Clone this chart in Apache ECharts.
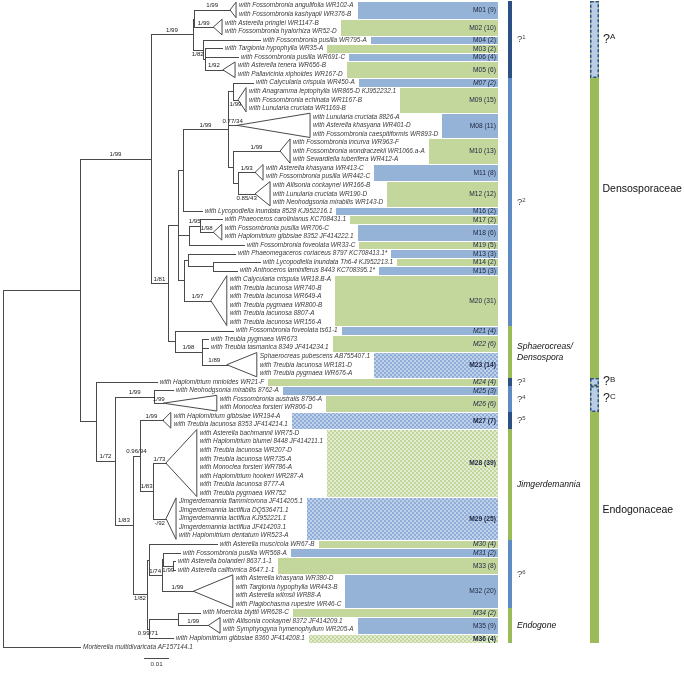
<!DOCTYPE html>
<html><head><meta charset="utf-8">
<script src="https://cdn.jsdelivr.net/npm/echarts/dist/echarts.min.js"></script>
<style>html,body{margin:0;padding:0;background:#fff}#chart{width:684px;height:674px}</style>
</head><body><div id="chart"></div>
<script>
// ---------------- DATA ----------------
const leafNames = [
 'with Fossombronia angulifolia WR102-A','with Fossombronia kashyapii WR376-B','with Asterella pringlei WR1147-B',
 'with Fossombronia hyalorhiza WR52-D','with Fossombronia pusilla WR795-A','with Targionia hypophylla WR35-A',
 'with Fossombronia pusilla WR691-C','with Asterella tenera WR656-B','with Pallavicinia xiphoides WR167-D',
 'with Calycularia crispula WR450-A','with Anagramma leptophylla WR865-D KJ952232.1','with Fossombronia echinata WR1167-B',
 'with Lunularia cruciata WR1169-B','with Lunularia cruciata 8826-A','with Asterella khasyana WR401-D',
 'with Fossombronia caespitiformis WR893-D','with Fossombronia incurva WR963-F','with Fossombronia wondraczekii WR1066.a-A',
 'with Sewardiella tuberifera WR412-A','with Asterella khasyana WR413-C','with Fossombronia pusilla WR442-C',
 'with Allisonia cockaynei WR166-B','with Lunularia cruciata WR190-D','with Neohodgsonia mirabilis WR143-D',
 'with Lycopodiella inundata 8528 KJ952216.1','with Phaeoceros carolinianus KC708431.1','with Fossombronia pusilla WR706-C',
 'with Haplomitrium gibbsiae 8352 JF414222.1','with Fossombronia foveolata WR33-C','with Phaeomegaceros coriaceus 8797 KC708413.1*',
 'with Lycopodiella inundata Th6-4 KJ952213.1','with Anthoceros laminiferus 8443 KC708395.1*','with Calycularia crispula WR18.B-A',
 'with Treubia lacunosa WR740-B','with Treubia lacunosa WR649-A','with Treubia pygmaea WR800-B',
 'with Treubia lacunosa 8807-A','with Treubia lacunosa WR156-A','with Fossombronia foveolata ts61-1',
 'with Treubia pygmaea WR673','with Treubia tasmanica 8349 JF414234.1','Sphaerocreas pubescens AB755407.1',
 'with Treubia lacunosa WR181-D','with Treubia pygmaea WR676-A','with Haplomitrium mnioides WR21-F',
 'with Neohodgsonia mirabilis 8762-A','with Fossombronia australis 8796-A','with Monoclea forsteri WR806-D',
 'with Haplomitrium gibbsiae WR194-A','with Treubia lacunosa 8353 JF414214.1','with Asterella bachmannii WR75-D',
 'with Haplomitrium blumei 8448 JF414211.1','with Treubia lacunosa WR207-D','with Treubia lacunosa WR735-A',
 'with Monoclea forsteri WR786-A','with Haplomitrium hookeri WR287-A','with Treubia lacunosa 8777-A',
 'with Treubia pygmaea WR752','Jimgerdemannia flammicorona JF414205.1','Jimgerdemannia lactiflua DQ536471.1',
 'Jimgerdemannia lactiflua KJ952221.1','Jimgerdemannia lactiflua JF414203.1','with Haplomitrium dentatum WR523-A',
 'with Asterella muscicola WR67-B','with Fossombronia pusilla WR568-A','with Asterella bolanderi 8637.1-1',
 'with Asterella californica 8647.1-1','with Asterella khasyana WR380-D','with Targionia hypophylla WR443-B',
 'with Asterella wilmsii WR88-A','with Plagiochasma rupestre WR46-C','with Moerckia blyttii WR628-C',
 'with Allisonia cockaynei 8372 JF414209.1','with Symphyogyna hymenophyllum WR205-A','with Haplomitrium gibbsiae 8360 JF414208.1',
 'Mortierella multidivaricata AF157144.1'
];

// internal nodes: [id, parent, depth from root (subst./site), support, label side]
const internalNodes = [
 ['root', null, 0, '', ''],
 ['ing', 'root', 0.0307, '', ''],
 ['dens', 'ing', 0.0591, '1/99', 'up'],
 ['A', 'dens', 0.0758, '1/99', 'up'],
 ['B', 'A', 0.0764, '', ''],
 ['C', 'A', 0.0798, '1/82', 'down'],
 ['D', 'C', 0.0807, '', ''],
 ['T', 'dens', 0.0658, '1/81', 'up'],
 ['M', 'T', 0.0700, '', ''],
 ['F', 'M', 0.0718, '', ''],
 ['G', 'F', 0.0900, '1/99', 'up'],
 ['L', 'G', 0.0919, '', ''],
 ['H', 'G', 0.0919, '', ''],
 ['K', 'H', 0.0940, '', ''],
 ['N', 'M', 0.0744, '', ''],
 ['O', 'N', 0.0787, '1/95', 'up'],
 ['S', 'M', 0.0723, '', ''],
 ['Q', 'S', 0.0738, '', ''],
 ['R', 'Q', 0.0840, '', ''],
 ['U', 'T', 0.0687, '', ''],
 ['V', 'U', 0.0794, '1/98', 'up'],
 ['X', 'ing', 0.0371, '', ''],
 ['Y', 'X', 0.0447, '1/72', 'up'],
 ['Z', 'Y', 0.0604, '1/99', 'up'],
 ['AA', 'Y', 0.0518, '1/83', 'up'],
 ['AB', 'AA', 0.0547, '0.96/94', 'up'],
 ['AD', 'AB', 0.0600, '1/83', 'up'],
 ['AC', 'AA', 0.0576, '1/82', 'down'],
 ['AE', 'AC', 0.0581, '', ''],
 ['AG', 'AE', 0.0634, '1/74', 'up'],
 ['AH', 'AG', 0.0640, '', ''],
 ['AI', 'AH', 0.0680, '1/99', 'down'],
 ['AF', 'AC', 0.0581, '0.99/71', 'down'],
 ['AJ', 'AF', 0.0700, '', '']
];

// single leaves: [row, parent, tip depth]
const singleLeaves = [
 [5,'C',0.1027],[6,'D',0.0875],[7,'D',0.0939],[10,'L',0.0999],[25,'F',0.0794],[26,'O',0.0874],
 [29,'N',0.0963],[30,'Q',0.0927],[31,'R',0.1027],[32,'R',0.0935],[39,'U',0.0919],[40,'V',0.0819],
 [41,'V',0.0819],[45,'X',0.0614],[46,'Z',0.0679],[64,'AE',0.0854],[65,'AH',0.0707],[66,'AI',0.0687],
 [67,'AI',0.0687],[72,'AJ',0.0787],[75,'AF',0.0679],[76,'root',0.0307]
];

// collapsed clades: [parent, apex depth, base depth, first row, last row, support, label side]
const collapsedClades = [
 ['B',0.0907,0.0931,1,2,'1/99','up'],
 ['B',0.0840,0.0875,3,4,'1/99','up'],
 ['D',0.0878,0.0927,8,9,'1/92','up'],
 ['L',0.0939,0.0971,11,13,'1/99','down'],
 ['G',0.0935,0.1227,14,16,'0.77/34','up'],
 ['H',0.1107,0.1147,17,19,'1/99','up'],
 ['K',0.1007,0.1039,20,21,'1/93','up'],
 ['K',0.1007,0.1067,22,24,'0.85/43','down'],
 ['O',0.0840,0.0874,27,28,'1/98','up'],
 ['S',0.0830,0.0894,33,38,'1/97','up'],
 ['V',0.0894,0.1014,42,44,'1/89','up'],
 ['Z',0.0640,0.0854,47,48,'1/99','up'],
 ['AB',0.0638,0.0670,49,50,'1/99','up'],
 ['AD',0.0650,0.0774,51,58,'1/73','up'],
 ['AD',0.0651,0.0691,59,63,'-/92','down'],
 ['AG',0.0760,0.0918,68,71,'1/99','up'],
 ['AJ',0.0820,0.0867,73,74,'1/99','up']
];

// OTU groups: [name, count, first row, last row, host class (b/g), mark (n normal, i italic, c checker+bold)]
const groups = [
 ['M01',9,1,2,'b','n'],['M02',10,3,4,'g','n'],['M04',2,5,5,'b','n'],['M03',2,6,6,'g','n'],
 ['M06',4,7,7,'b','n'],['M05',6,8,9,'g','n'],['M07',2,10,10,'b','i'],['M09',15,11,13,'g','n'],
 ['M08',11,14,16,'b','n'],['M10',13,17,19,'g','n'],['M11',8,20,21,'b','n'],['M12',12,22,24,'g','n'],
 ['M16',2,25,25,'b','n'],['M17',2,26,26,'g','n'],['M18',6,27,28,'b','n'],['M19',5,29,29,'g','n'],
 ['M13',3,30,30,'b','n'],['M14',2,31,31,'g','n'],['M15',3,32,32,'b','n'],['M20',31,33,38,'g','n'],
 ['M21',4,39,39,'b','i'],['M22',6,40,41,'g','i'],['M23',14,42,44,'b','c'],['M24',4,45,45,'g','i'],
 ['M25',3,46,46,'b','i'],['M26',6,47,48,'g','i'],['M27',7,49,50,'b','c'],['M28',39,51,58,'g','c'],
 ['M29',25,59,63,'b','c'],['M30',4,64,64,'g','i'],['M31',2,65,65,'b','i'],['M33',8,66,67,'g','n'],
 ['M32',20,68,71,'b','n'],['M34',2,72,72,'g','i'],['M35',9,73,74,'b','n'],['M36',4,75,75,'g','c']
];

// clade bars (first column): [label, superscript, first row, last row, class]
const cladeBars = [
 ['?','1',1,9,'dark'],['?','2',10,38,'mid'],['Sphaerocreas/\nDensospora','',39,44,'green'],
 ['?','3',45,45,'dark'],['?','4',46,48,'mid'],['?','5',49,50,'dark'],
 ['Jimgerdemannia','',51,63,'green'],['?','6',64,71,'mid'],['Endogone','',72,75,'green']
];
// families (second column): [label, first row, last row]
const familyBars = [['Densosporaceae',1,44],['Endogonaceae',45,75]];
// uncertain placements (second column, dashed): [label, superscript, first row, last row]
const uncertainBars = [['?','A',1,9],['?','B',45,45],['?','C',46,48]];

const scaleBarLength = 0.01;
const scaleBarLabel = '0.01';

// ---------------- LAYOUT / STYLE ----------------
const X_MAX = 0.198;
const SCALE_START = 0.0563;
const FONT_LEAF = 'italic 6.45px "Liberation Sans"';
const FONT_SUP = '6.1px "Liberation Sans"';
const LINE = '#4a4a4a';
const COLORS = {b:'#95b3d7', g:'#c3d69b', dark:'#2c4f86', mid:'#5f8bc4', green:'#9bbb59'};

function checker(c1, c2, s) {
  const cv = document.createElement('canvas'); cv.width = cv.height = 2*s;
  const ctx = cv.getContext('2d');
  ctx.fillStyle = c1; ctx.fillRect(0,0,2*s,2*s);
  ctx.fillStyle = c2; ctx.fillRect(0,0,s,s); ctx.fillRect(s,s,s,s);
  return cv;
}
const PATTERNS = {
  b: {image: checker('#c0d2ea','#8fadd6',2), repeat:'repeat'},
  g: {image: checker('#e3ecd1','#c3d69b',2), repeat:'repeat'}
};
const mctx = document.createElement('canvas').getContext('2d');
function textW(t, font){ mctx.font = font; return mctx.measureText(t).width; }

// ---------------- TREE BUILD ----------------
const nodes = {};
internalNodes.forEach(([id,parent,depth,support,side]) => nodes[id] = {id,parent,depth,support,side,kids:[]});
internalNodes.forEach(([id,parent]) => { if (parent) nodes[parent].kids.push({kind:'node', id}); });
singleLeaves.forEach(([row,parent,tip]) => nodes[parent].kids.push({kind:'leaf', row, tip}));
collapsedClades.forEach((c,i) => nodes[c[0]].kids.push({kind:'clade', i}));
const yCache = {};
function kidY(k){
  if (k.kind==='leaf') return k.row;
  if (k.kind==='clade') return (collapsedClades[k.i][3]+collapsedClades[k.i][4])/2;
  return nodeY(k.id);
}
function nodeY(id){
  if (yCache[id]!=null) return yCache[id];
  const ys = nodes[id].kids.map(kidY);
  return (yCache[id] = (Math.min(...ys)+Math.max(...ys))/2);
}
const segments = [], triangles = [], supports = [], supportTexts = [], leafText = [];
const rowTextDepth = [];
Object.values(nodes).forEach(n => {
  const y = nodeY(n.id);
  const ys = n.kids.map(kidY);
  segments.push([n.depth, Math.min(...ys), n.depth, Math.max(...ys)]);
  if (n.parent) {
    const pd = nodes[n.parent].depth;
    segments.push([pd, y, n.depth, y]);
    if (n.support) { supports.push([(pd+n.depth)/2, y, n.side==='down'?1:0, supportTexts.length]); supportTexts.push(n.support); }
  }
});
singleLeaves.forEach(([row,parent,tip]) => {
  segments.push([nodes[parent].depth, row, tip, row]);
  leafText.push([tip, row, row-1]); rowTextDepth[row] = tip;
});
collapsedClades.forEach(([parent,apex,base,r0,r1,sup,side]) => {
  const pd = nodes[parent].depth, y = (r0+r1)/2;
  segments.push([pd, y, apex, y]);
  triangles.push([apex, y, base, r0-0.42, r1+0.42]);
  for (let r=r0;r<=r1;r++){ leafText.push([base, r, r-1]); rowTextDepth[r] = base; }
  if (sup) { supports.push([(pd+apex)/2, y, side==='down'?1:0, supportTexts.length]); supportTexts.push(sup); }
});

function crisp(v){ return Math.round(v)+0.5; }
function txt(x,y,text,font,fill,align,valign){
  return {type:'text', x, y, style:{text, font, fill, align, verticalAlign:valign, textAlign:align, textVerticalAlign:valign}};
}
function supLabel(x, y, q, s, qSize, sSize, color){
  return {type:'text', x, y, style:{
    text:'{q|'+q+'}{s|'+s+'}', align:'left', verticalAlign:'middle', textAlign:'left', textVerticalAlign:'middle',
    rich:{ q:{fontSize:qSize, fontFamily:'Liberation Sans', fill:color, color:color},
           s:{fontSize:sSize, fontFamily:'Liberation Sans', fill:color, color:color, verticalAlign:'top'} } }};
}

const chart = echarts.init(document.getElementById('chart'), null, {renderer:'canvas'});
chart.setOption({
  animation:false,
  backgroundColor:'#ffffff',
  grid:{left:3.3, right:684-3.3-X_MAX*2500, top:5.7, bottom:27.2, containLabel:false},
  xAxis:{type:'value', min:0, max:X_MAX, show:false},
  yAxis:{type:'value', min:1, max:76, inverse:true, show:false},
  series:[
    { type:'custom', name:'branches', silent:true, data:segments,
      renderItem(params, api){
        const a = api.coord([api.value(0), api.value(1)]), b = api.coord([api.value(2), api.value(3)]);
        let x1,y1,x2,y2;
        if (Math.abs(a[1]-b[1]) < 0.01) { y1 = y2 = crisp(a[1]); x1 = Math.round(a[0]); x2 = Math.round(b[0])+1; }
        else { x1 = x2 = crisp(a[0]); y1 = Math.round(a[1]); y2 = Math.round(b[1])+1; }
        return {type:'line', shape:{x1,y1,x2,y2}, style:{stroke:LINE, lineWidth:1}};
      }},
    { type:'custom', name:'collapsed', silent:true, data:triangles,
      renderItem(params, api){
        const ap = api.coord([api.value(0), api.value(1)]);
        const b0 = api.coord([api.value(2), api.value(3)]), b1 = api.coord([api.value(2), api.value(4)]);
        return {type:'polygon', shape:{points:[[ap[0],ap[1]],[b0[0],b0[1]],[b1[0],b1[1]]]},
                style:{stroke:LINE, lineWidth:1, fill:'none'}};
      }},
    { type:'custom', name:'tips', silent:true, data:leafText,
      renderItem(params, api){
        const p = api.coord([api.value(0), api.value(1)]);
        return txt(p[0]+3, p[1], leafNames[api.value(2)], FONT_LEAF, '#3a3a3a', 'left', 'middle');
      }},
    { type:'custom', name:'support', silent:true, data:supports,
      renderItem(params, api){
        const p = api.coord([api.value(0), api.value(1)]);
        const down = api.value(2) === 1;
        return txt(p[0], p[1] + (down ? 1.5 : -1.2), supportTexts[api.value(3)], FONT_SUP, '#222', 'center', down ? 'top' : 'bottom');
      }},
    { type:'custom', name:'otus', silent:true, data:groups.map((g,i)=>[i]),
      renderItem(params, api){
        const [name, n, r0, r1, cls, mark] = groups[api.value(0)];
        const cs = params.coordSys, right = cs.x + cs.width;
        let left = 0;
        for (let r=r0;r<=r1;r++){
          const p = api.coord([rowTextDepth[r], r]);
          left = Math.max(left, p[0] + 3 + textW(leafNames[r-1], FONT_LEAF));
        }
        left = Math.round(left + 4);
        const top = Math.round(api.coord([0, r0-0.5])[1]) + 1;
        const bot = Math.round(api.coord([0, r1+0.5])[1]);
        const fill = mark === 'c' ? PATTERNS[cls] : COLORS[cls];
        const font = (mark==='i' ? 'italic ' : mark==='c' ? 'bold ' : '') + '6.7px "Liberation Sans"';
        return {type:'group', children:[
          {type:'rect', shape:{x:left, y:top, width:Math.round(right)-left, height:bot-top}, style:{fill}},
          txt(Math.round(right)-2, (top+bot)/2, name+' ('+n+')', font, '#1b2541', 'right', 'middle')
        ]};
      }},
    { type:'custom', name:'clades', silent:true, data:cladeBars.map((c,i)=>[i]),
      renderItem(params, api){
        const [label, sup, r0, r1, cls] = cladeBars[api.value(0)];
        const cs = params.coordSys, right = Math.round(cs.x + cs.width);
        const top = Math.round(api.coord([0, r0-0.5])[1]);
        const bot = Math.round(api.coord([0, r1+0.5])[1]);
        const mid = (top+bot)/2;
        const children = [{type:'rect', shape:{x:right+10, y:top, width:4, height:bot-top}, style:{fill:COLORS[cls]}}];
        if (sup) children.push(supLabel(right+19, mid, label, sup, 9.5, 6, '#444'));
        else children.push({type:'text', x:right+19, y:mid, style:{text:label, font:'italic 8.6px "Liberation Sans"', fill:'#111',
            align:'left', verticalAlign:'middle', textAlign:'left', textVerticalAlign:'middle', lineHeight:11.5}});
        return {type:'group', children};
      }},
    { type:'custom', name:'families', silent:true, data:familyBars.map((c,i)=>[i]),
      renderItem(params, api){
        const [label, r0, r1] = familyBars[api.value(0)];
        const cs = params.coordSys, right = Math.round(cs.x + cs.width);
        const top = Math.round(api.coord([0, r0-0.5])[1]);
        const bot = Math.round(api.coord([0, r1+0.5])[1]);
        return {type:'group', children:[
          {type:'rect', shape:{x:right+92, y:top, width:9, height:bot-top}, style:{fill:COLORS.green}},
          txt(right+104.5, (top+bot)/2, label, '10.5px "Liberation Sans"', '#111', 'left', 'middle')
        ]};
      }},
    { type:'custom', name:'uncertain', silent:true, data:uncertainBars.map((c,i)=>[i]),
      renderItem(params, api){
        const [label, sup, r0, r1] = uncertainBars[api.value(0)];
        const cs = params.coordSys, right = Math.round(cs.x + cs.width);
        const top = Math.round(api.coord([0, r0-0.5])[1]);
        const bot = Math.round(api.coord([0, r1+0.5])[1]);
        return {type:'group', children:[
          {type:'rect', shape:{x:right+92.75, y:top+0.75, width:7.5, height:bot-top-1.5},
           style:{fill:'#b9cde6', stroke:'#2c4f86', lineWidth:1.5, lineDash:[3,2]}},
          supLabel(right+105, (top+bot)/2, label, sup, 12.5, 8, '#222')
        ]};
      }},
    { type:'custom', name:'scale', silent:true, data:[[0]],
      renderItem(params, api){
        const a = api.coord([SCALE_START, 77.3]), b = api.coord([SCALE_START+scaleBarLength, 77.3]);
        const y = crisp(a[1]);
        return {type:'group', children:[
          {type:'line', shape:{x1:Math.round(a[0]), y1:y, x2:Math.round(b[0]), y2:y}, style:{stroke:LINE, lineWidth:1}},
          txt((a[0]+b[0])/2, y+3, scaleBarLabel, '6.2px "Liberation Sans"', '#333', 'center', 'top')
        ]};
      }}
  ]
});
</script>
</body></html>
